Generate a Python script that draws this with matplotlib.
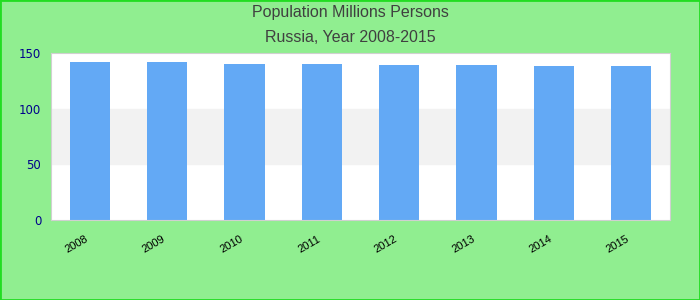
import matplotlib

matplotlib.use("Agg")
import matplotlib.pyplot as plt
from matplotlib.patches import Rectangle

years = ["2008", "2009", "2010", "2011", "2012", "2013", "2014", "2015"]
population = [142.0, 141.9, 140.4, 140.3, 139.4, 139.4, 138.6, 138.5]
band_low, band_high = 50, 100
y_ticks = [0, 50, 100, 150]

fig = plt.figure(figsize=(7, 3), dpi=100, facecolor="#90EE90")
ax = fig.add_axes([51 / 700, 80 / 300, 619 / 700, 167 / 300])
ax.set_facecolor("white")

ax.axhspan(band_low, band_high, color="#F2F2F2", zorder=0)
x = range(len(years))
ax.bar(x, population, width=0.52, color="#63A9F5", zorder=2)

ax.set_xlim(-0.5, len(years) - 0.5)
ax.set_ylim(0, 150)
ax.set_yticks(y_ticks)
ax.set_xticks(list(x))
ax.set_xticklabels(years, rotation=30, ha="right", fontsize=8, family="Liberation Sans")
ax.tick_params(axis="y", length=0, colors="#00008B", labelsize=8.5, pad=7)
ax.tick_params(axis="x", length=0, pad=10)
for s in ax.spines.values():
    s.set_color("#D0D0D0")

fig.text(0.5, 1 - 13 / 300, "Population Millions Persons", ha="center", va="center",
         fontsize=11.5, color="#404040", family="Liberation Sans")
fig.text(0.5, 1 - 37 / 300, "Russia, Year 2008-2015", ha="center", va="center",
         fontsize=11.5, color="#404040", family="Liberation Sans")

fig.patches.append(Rectangle((0, 0), 1, 1, transform=fig.transFigure, fill=False,
                             edgecolor="#22DD22", linewidth=2))

fig.savefig("out.png", facecolor=fig.get_facecolor())
